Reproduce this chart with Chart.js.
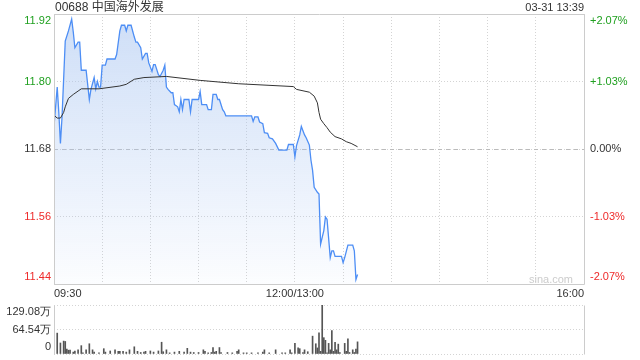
<!DOCTYPE html>
<html lang="zh">
<head>
    <meta charset="UTF-8">
    <title>00688 中国海外发展</title>
    <script src="https://cdn.jsdelivr.net/npm/chart.js"></script>
    <style>
        body {
            margin: 0;
            width: 640px;
            height: 360px;
            background: #fff;
            position: relative;
            overflow: hidden;
            font-family: "Liberation Sans", Arial, "Noto Sans CJK SC", sans-serif;
        }
        .box { position: absolute; left: 0; width: 640px; }
        #priceBox { top: 0; height: 300px; }
        #volBox { top: 300px; height: 60px; }
        .txt { position: absolute; font-size: 11px; color: #333; line-height: 14px; white-space: nowrap; }
        #title { left: 55px; top: 0; font-size: 12px; }
        #time { right: 56px; top: 0; }
        #sina { right: 67px; top: 272px; color: #ccc; font-size: 11px; }
    </style>
</head>
<body>
    <div class="box" id="priceBox"><canvas id="priceChart" width="640" height="300"></canvas></div>
    <div class="box" id="volBox"><canvas id="volChart" width="640" height="60"></canvas></div>
    <div class="txt" id="title">00688 中国海外发展</div>
    <div class="txt" id="time">03-31 13:39</div>
    <div class="txt" id="sina">sina.com</div>

    <script>
        // 分时数据 (分钟序号, 从 09:30 开始, 午休不计)
        const priceMin = [0, 2, 3, 4, 5, 7, 9, 11, 12, 13, 15, 16, 17, 20, 22, 23, 25, 26, 27, 28, 29, 30, 32, 33, 38, 39,
            41, 42, 44, 45, 46, 48, 50, 51, 52, 54, 55, 57, 58, 59, 61, 62, 63, 65, 66, 68, 69, 70, 71, 73, 74, 75, 77, 78,
            79, 80, 81, 84, 85, 86, 90, 91, 92, 95, 96, 98, 99, 101, 102, 103, 105, 106, 107, 123, 124, 125, 127, 128, 130,
            131, 133, 134, 136, 138, 140, 145, 146, 149, 150, 151, 153, 154, 156, 157, 159, 160, 161, 162, 164, 165, 166,
            168, 169, 170, 172, 173, 174, 175, 179, 180, 181, 183, 186, 187, 188, 189];
        const price = [11.72, 11.79, 11.745, 11.69, 11.737, 11.872, 11.89, 11.911, 11.888, 11.86, 11.87, 11.87, 11.82, 11.82,
            11.768, 11.786, 11.807, 11.787, 11.80, 11.79, 11.79, 11.829, 11.829, 11.84, 11.84, 11.848,
            11.89, 11.90, 11.90, 11.89, 11.90, 11.90, 11.879, 11.87, 11.87, 11.86, 11.84, 11.85, 11.85, 11.833, 11.818, 11.83,
            11.83, 11.812, 11.809, 11.82, 11.829, 11.79, 11.786, 11.78, 11.78, 11.759, 11.755, 11.746,
            11.768, 11.75, 11.768, 11.768, 11.746, 11.768, 11.768, 11.782, 11.759, 11.759, 11.75, 11.75, 11.777, 11.777,
            11.768, 11.768, 11.75, 11.746, 11.739, 11.739, 11.729, 11.737, 11.737, 11.728, 11.725,
            11.709, 11.708, 11.70, 11.698, 11.69, 11.678, 11.678, 11.688, 11.688, 11.666, 11.686, 11.705, 11.72, 11.705,
            11.70, 11.687, 11.66, 11.642, 11.612, 11.603, 11.60, 11.511,
            11.535, 11.559, 11.555, 11.487, 11.499, 11.499, 11.489, 11.489, 11.478, 11.487, 11.509, 11.509, 11.499, 11.448, 11.457];

        // 均价线
        const avgMin = [0, 2, 4, 6, 7, 9, 12, 15, 17, 28, 41, 45, 50, 56, 70, 91, 115, 149, 151, 159, 162, 164, 165, 166,
            168, 170, 172, 175, 179, 182, 185, 189];
        const avgPrice = [11.74, 11.735, 11.735, 11.745, 11.755, 11.77, 11.777, 11.783, 11.787, 11.787, 11.792, 11.795,
            11.804, 11.807, 11.809, 11.802, 11.796, 11.791, 11.786, 11.781, 11.774, 11.762, 11.745, 11.733,
            11.725, 11.718, 11.71, 11.702, 11.698, 11.693, 11.69, 11.684];

        // 成交量 (万股)
        const volMin = [0, 2, 4, 6, 7, 8, 9, 10, 12, 13, 15, 17, 18, 20, 22, 24, 25, 28, 31, 32, 35, 38, 40, 41, 43, 45, 47,
            50, 52, 54, 56, 57, 60, 62, 65, 67, 68, 70, 72, 75, 78, 81, 83, 85, 87, 90, 93, 94, 96, 98, 99, 100, 101, 103,
            104, 108, 111, 114, 115, 118, 120, 123, 127, 130, 131, 134, 138, 142, 144, 147, 148, 150, 152, 153, 155, 156,
            158, 161, 163, 164, 165, 166, 167, 168, 169, 170, 171, 172, 173, 174, 175, 176, 177, 178, 181, 182, 183, 184,
            186, 187, 188, 189];
        const volume = [66, 55, 29, 34, 33, 13, 10, 10, 5, 8, 11, 22, 3, 11, 27, 11, 5, 3, 14, 5, 8, 11, 7, 7, 7, 5, 11,
            19, 7, 4, 5, 7, 8, 5, 8, 31, 6, 11, 3, 5, 7, 5, 15, 5, 4, 4, 11, 7, 3, 4, 17, 5, 7, 17,
            4, 4, 3, 7, 11, 3, 3, 3, 3, 5, 11, 3, 11, 3, 3, 11, 3, 28, 16, 14, 4, 11,
            6, 47, 27, 16, 56, 7, 129.08, 43, 36, 3, 28, 11, 62, 7, 31, 11, 26, 4, 28, 7, 40, 4,
            11, 4, 13, 32];

        const prevClose = 11.68;
        const priceTicks = [11.44, 11.56, 11.68, 11.80, 11.92];
        const priceLabels = ['11.44', '11.56', '11.68', '11.80', '11.92'];
        const pctLabels = ['-2.07%', '-1.03%', '0.00%', '+1.03%', '+2.07%'];
        const volTicks = [0, 64.54, 129.08];
        const volLabels = ['0', '64.54万', '129.08万'];
        const timeTicks = [0, 30, 60, 90, 120, 150, 180, 210, 240, 270, 300, 330];
        const timeLabels = ['09:30', '', '', '', '', '12:00/13:00', '', '', '', '', '', '16:00'];

        const FONT = { family: '"Liberation Sans", Arial, sans-serif', size: 11 };
        const GREEN = '#20a020';
        const RED = '#ee2a2a';

        function upDownColor(v) {
            if (v > prevClose + 0.001) return GREEN;
            if (v < prevClose - 0.001) return RED;
            return '#333';
        }

        // 首尾标签往里挪一点
        function edgeLabel(text, i, n) {
            if (i === 0) return [text, ''];
            if (i === n - 1) return ['', text];
            return text;
        }

        // 固定轴的尺寸, 不让标签把绘图区挤小
        function fixSize(w, h) {
            return (s) => {
                if (w != null) s.width = w;
                if (h != null) s.height = h;
                s.paddingTop = 0;
                s.paddingBottom = 0;
                s.paddingLeft = 0;
                s.paddingRight = 0;
            };
        }

        const framePlugin = {
            id: 'frame',
            beforeDatasetsDraw(chart, args, opts) {
                if (opts.baseValue == null) return;
                const a = chart.chartArea;
                const y = Math.round(chart.scales.y.getPixelForValue(opts.baseValue)) + 0.5;
                const ctx = chart.ctx;
                ctx.save();
                ctx.strokeStyle = '#bbb';
                ctx.lineWidth = 1;
                ctx.setLineDash([4, 4]);
                ctx.beginPath();
                ctx.moveTo(a.left, y);
                ctx.lineTo(a.right, y);
                ctx.stroke();
                ctx.restore();
            },
            afterDraw(chart, args, opts) {
                const a = chart.chartArea;
                const ctx = chart.ctx;
                ctx.save();
                ctx.strokeStyle = '#ccc';
                ctx.lineWidth = 1;
                const l = Math.round(a.left) + 0.5, r = Math.round(a.right) + 0.5;
                const t = Math.round(a.top) + 0.5, b = Math.round(a.bottom) + 0.5;
                ctx.beginPath();
                if (opts.full) {
                    ctx.rect(l, t, r - l, b - t);
                } else {
                    ctx.moveTo(l, t); ctx.lineTo(l, b);
                    ctx.moveTo(r, t); ctx.lineTo(r, b);
                }
                ctx.stroke();
                ctx.restore();
            }
        };

        const priceChart = new Chart(document.getElementById('priceChart'), {
            type: 'line',
            data: {
                datasets: [{
                    label: '均价',
                    data: avgMin.map((m, i) => ({ x: m, y: avgPrice[i] })),
                    borderColor: '#333',
                    borderWidth: 1,
                    pointRadius: 0,
                    tension: 0,
                    fill: false
                }, {
                    label: '价格',
                    data: priceMin.map((m, i) => ({ x: m, y: price[i] })),
                    borderColor: '#4d8ef5',
                    borderWidth: 1.3,
                    pointRadius: 0,
                    tension: 0,
                    fill: 'start',
                    backgroundColor: (c) => {
                        const a = c.chart.chartArea;
                        if (!a) return 'rgba(173,200,242,0.4)';
                        const g = c.chart.ctx.createLinearGradient(0, a.top, 0, a.bottom);
                        g.addColorStop(0, 'rgba(173,200,242,0.6)');
                        g.addColorStop(1, 'rgba(173,200,242,0.04)');
                        return g;
                    }
                }]
            },
            options: {
                responsive: false,
                animation: false,
                events: [],
                layout: { autoPadding: false, padding: { top: 14, left: 0, right: 0, bottom: 0 } },
                plugins: {
                    legend: { display: false },
                    tooltip: { enabled: false },
                    frame: { full: true, baseValue: prevClose }
                },
                scales: {
                    x: {
                        type: 'linear',
                        min: 0,
                        max: 330,
                        afterBuildTicks: (s) => { s.ticks = timeTicks.map(v => ({ value: v })); },
                        afterFit: fixSize(null, 16),
                        ticks: {
                            autoSkip: false,
                            maxRotation: 0,
                            align: 'inner',
                            padding: 3,
                            color: '#333',
                            font: FONT,
                            callback: (v, i) => timeLabels[i]
                        },
                        grid: { color: '#d4d4d4', drawTicks: false },
                        border: { display: false, dash: [1, 2] }
                    },
                    y: {
                        position: 'left',
                        min: 11.44,
                        max: 11.92,
                        afterBuildTicks: (s) => { s.ticks = priceTicks.map(v => ({ value: v })); },
                        afterFit: fixSize(54, null),
                        ticks: {
                            autoSkip: false,
                            padding: 3,
                            font: FONT,
                            color: (c) => upDownColor(c.tick.value),
                            callback: (v, i) => edgeLabel(priceLabels[i], i, priceLabels.length)
                        },
                        grid: { color: '#d4d4d4', drawTicks: false },
                        border: { display: false, dash: [1, 2] }
                    },
                    y1: {
                        position: 'right',
                        min: 11.44,
                        max: 11.92,
                        afterBuildTicks: (s) => { s.ticks = priceTicks.map(v => ({ value: v })); },
                        afterFit: fixSize(56, null),
                        ticks: {
                            autoSkip: false,
                            padding: 6,
                            font: FONT,
                            color: (c) => upDownColor(c.tick.value),
                            callback: (v, i) => edgeLabel(pctLabels[i], i, pctLabels.length)
                        },
                        grid: { drawOnChartArea: false, drawTicks: false },
                        border: { display: false }
                    }
                }
            },
            plugins: [framePlugin]
        });

        const volChart = new Chart(document.getElementById('volChart'), {
            type: 'bar',
            data: {
                datasets: [{
                    label: '成交量',
                    data: volMin.map((m, i) => ({ x: m, y: volume[i] })),
                    backgroundColor: '#555',
                    barThickness: 1
                }]
            },
            options: {
                responsive: false,
                animation: false,
                events: [],
                layout: { autoPadding: false, padding: { top: 5, bottom: 6, left: 0, right: 56 } },
                plugins: {
                    legend: { display: false },
                    tooltip: { enabled: false },
                    frame: { full: false }
                },
                scales: {
                    x: {
                        type: 'linear',
                        min: 0,
                        max: 330,
                        offset: false,
                        display: false
                    },
                    y: {
                        position: 'left',
                        min: 0,
                        max: 129.08,
                        afterBuildTicks: (s) => { s.ticks = volTicks.map(v => ({ value: v })); },
                        afterFit: fixSize(54, null),
                        ticks: {
                            autoSkip: false,
                            padding: 3,
                            font: FONT,
                            color: '#333',
                            callback: (v, i) => edgeLabel(volLabels[i], i, volLabels.length)
                        },
                        grid: { color: '#d4d4d4', drawTicks: false },
                        border: { display: false, dash: [1, 2] }
                    }
                }
            },
            plugins: [framePlugin]
        });
    </script>
</body>
</html>
